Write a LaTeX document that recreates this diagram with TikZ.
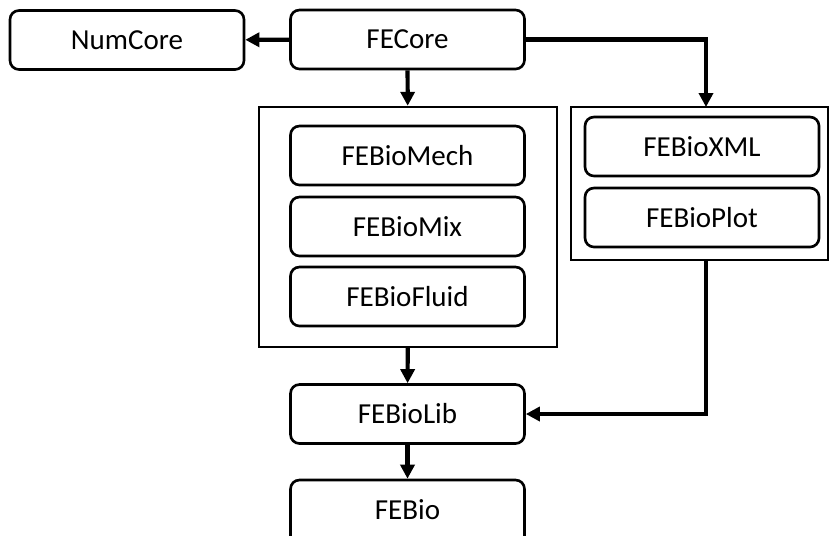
\documentclass[tikz,border=0pt]{standalone}
\usepackage{fontspec}
\setmainfont{Carlito}
\usetikzlibrary{arrows.meta,positioning}

\begin{document}
\begin{tikzpicture}[x=1cm,y=1cm,
          every node/.style={font=\fontsize{16.5}{19}\selectfont},
          modbox/.style={draw,line width=1.5pt,rounded corners=0.18cm,fill=white,
                         minimum width=4.68cm,minimum height=1.18cm,inner sep=0pt},
          grpbox/.style={draw,line width=1.4pt,inner sep=0pt},
          dep/.style={line width=2.4pt,-{Triangle[length=0.28cm,width=0.28cm]}}]
        \useasboundingbox (0,0) rectangle (16.6,-10.7);
        % groups
        \node[grpbox,minimum width=5.96cm,minimum height=4.8cm] (leftgrp) at (8.16,-4.54) {};
        \node[grpbox,minimum width=5.14cm,minimum height=3.06cm] (rightgrp) at (13.99,-3.67) {};
        % modules
        \node[modbox] (numcore) at (2.54,-0.8) {NumCore};
        \node[modbox] (fecore) at (8.15,-0.79) {FECore};
        \node[modbox] (mech) at (8.15,-3.11) {FEBioMech};
        \node[modbox] (mix) at (8.15,-4.53) {FEBioMix};
        \node[modbox] (fluid) at (8.15,-5.93) {FEBioFluid};
        \node[modbox] (xml) at (14.04,-2.93) {FEBioXML};
        \node[modbox] (plot) at (14.04,-4.35) {FEBioPlot};
        \node[modbox] (febiolib) at (8.15,-8.28) {FEBioLib};
        \node[modbox,minimum height=1.4cm,text depth=0.22cm] (febio) at (8.15,-10.3) {FEBio};
        \coordinate (xmlin) at (14.12,-2.14);
        \coordinate (xmlout) at (14.12,-5.2);
        % dependencies
        \draw[dep] (fecore) -- (numcore);
        \draw[dep] (fecore) -- (leftgrp);
        \draw[dep] (fecore.east) -| (xmlin);
        \draw[dep] (leftgrp) -- (febiolib);
        \draw[dep] (xmlout) |- (febiolib.east);
        \draw[dep] (febiolib) -- (febio);
\end{tikzpicture}
\end{document}
